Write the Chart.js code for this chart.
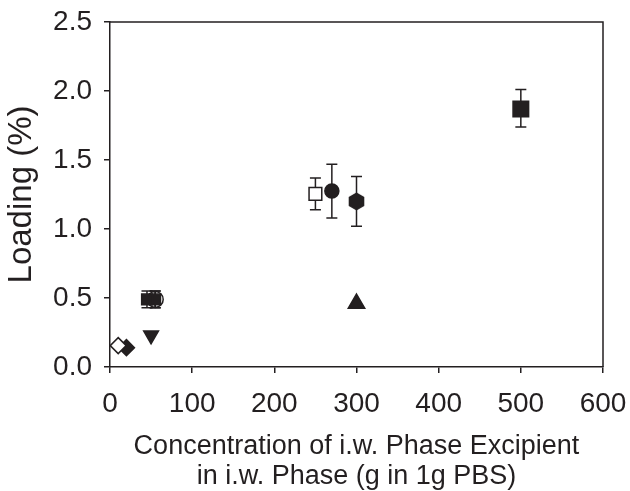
<!DOCTYPE html>
<html>
<head>
<meta charset="utf-8">
<script src="https://cdn.jsdelivr.net/npm/chart.js@4.4.1/dist/chart.umd.min.js"></script>
<style>
  html, body { margin: 0; padding: 0; background: #fff; }
  #wrap { width: 630px; height: 491px; }
</style>
</head>
<body>
<div id="wrap"><canvas id="loadingChart" width="630" height="491"></canvas></div>
<script>
// data
const xValues = [10, 20, 50, 45, 55, 55, 250, 270, 300, 300, 500];
const yValues = [0.155, 0.14, 0.23, 0.49, 0.49, 0.49, 1.255, 1.275, 1.2, 0.46, 1.87];
const errLow  = [null, null, null, 0.43, 0.43, 0.43, 1.14, 1.08, 1.02, null, 1.74];
const errHigh = [null, null, null, 0.55, 0.55, 0.55, 1.37, 1.47, 1.38, null, 2.01];
const xTicks = [0, 100, 200, 300, 400, 500, 600];
const yTicks = [0.0, 0.5, 1.0, 1.5, 2.0, 2.5];

const ink = "#231f20";
const fontFamily = "'Liberation Sans', Arial, Helvetica, sans-serif";

// hexagon marker (no built-in one in Chart.js)
function makeHexagon(size) {
  const c = document.createElement("canvas");
  c.width = size; c.height = size;
  const g = c.getContext("2d");
  const r = size / 2;
  g.beginPath();
  for (let i = 0; i < 6; i++) {
    const a = i * Math.PI / 3 - Math.PI / 2;
    const px = r + Math.cos(a) * (r - 0.5);
    const py = r + Math.sin(a) * (r - 0.5);
    if (i === 0) g.moveTo(px, py); else g.lineTo(px, py);
  }
  g.closePath();
  g.fillStyle = ink;
  g.fill();
  return c;
}
const hexagon = makeHexagon(19);

// marker look for each point, same order as the data arrays
const markers = [
  { style: "rectRot", r: 8, fill: "#fff" },
  { style: "rectRot", r: 8, fill: ink },
  { style: "triangle", r: 8.5, fill: ink, rot: 180 },
  { style: "rect", r: 7.5, fill: ink },
  { style: "rect", r: 7.5, fill: ink },
  { style: "circle", r: 8, fill: "rgba(0,0,0,0)" },
  { style: "rect", r: 9, fill: "#fff" },
  { style: "circle", r: 7, fill: ink },
  { style: hexagon, r: 9, fill: ink },
  { style: "triangle", r: 9.5, fill: ink },
  { style: "rect", r: 11, fill: ink }
];

const datasets = xValues.map((x, i) => ({
  label: "s" + i,
  data: [{ x: x, y: yValues[i] }],
  pointStyle: markers[i].style,
  pointRadius: markers[i].r,
  pointRotation: markers[i].rot || 0,
  pointBackgroundColor: markers[i].fill,
  pointBorderColor: ink,
  pointBorderWidth: 1.5,
  showLine: false
}));

// vertical error bars with caps
const errorBars = {
  id: "errorBars",
  beforeDatasetsDraw(chart) {
    const ctx = chart.ctx;
    const xs = chart.scales.x, ys = chart.scales.y;
    ctx.save();
    ctx.strokeStyle = ink;
    ctx.lineWidth = 1.5;
    xValues.forEach((x, i) => {
      if (errLow[i] === null) return;
      const px = xs.getPixelForValue(x);
      const y1 = ys.getPixelForValue(errLow[i]);
      const y2 = ys.getPixelForValue(errHigh[i]);
      ctx.beginPath();
      ctx.moveTo(px, y1); ctx.lineTo(px, y2);
      ctx.moveTo(px - 5.5, y1); ctx.lineTo(px + 5.5, y1);
      ctx.moveTo(px - 5.5, y2); ctx.lineTo(px + 5.5, y2);
      ctx.stroke();
    });
    ctx.restore();
  }
};

// top and right edges of the frame
const frame = {
  id: "frame",
  afterDraw(chart) {
    const a = chart.chartArea, ctx = chart.ctx;
    ctx.save();
    ctx.strokeStyle = ink;
    ctx.lineWidth = 1.5;
    ctx.beginPath();
    ctx.moveTo(a.left, a.top); ctx.lineTo(a.right, a.top); ctx.lineTo(a.right, a.bottom);
    ctx.stroke();
    ctx.restore();
  }
};

new Chart(document.getElementById("loadingChart"), {
  type: "scatter",
  data: { datasets: datasets },
  plugins: [errorBars, frame],
  options: {
    responsive: false,
    animation: false,
    layout: { padding: { top: 22, right: 27, left: 0, bottom: 0 } },
    plugins: { legend: { display: false }, tooltip: { enabled: false } },
    scales: {
      x: {
        type: "linear", min: 0, max: 600,
        afterFit(s) { s.height = 124; s.paddingLeft = 0; s.paddingRight = 0; },
        afterBuildTicks(s) { s.ticks = xTicks.map(v => ({ value: v })); },
        grid: { drawOnChartArea: false, drawTicks: true, tickLength: 6, color: ink, lineWidth: 1.5 },
        border: { display: true, color: ink, width: 1.5 },
        ticks: { color: ink, padding: 14, font: { family: fontFamily, size: 28 } },
        title: {
          display: true,
          text: ["Concentration of i.w. Phase Excipient", "in i.w. Phase (g in 1g PBS)"],
          color: ink,
          font: { family: fontFamily, size: 27, lineHeight: 1.1 },
          padding: { top: 0, bottom: 0 }
        }
      },
      y: {
        type: "linear", min: 0, max: 2.5,
        afterFit(s) { s.width = 110; s.paddingTop = 0; s.paddingBottom = 0; },
        afterBuildTicks(s) { s.ticks = yTicks.map(v => ({ value: v })); },
        grid: { drawOnChartArea: false, drawTicks: true, tickLength: 6, color: ink, lineWidth: 1.5 },
        border: { display: true, color: ink, width: 1.5 },
        ticks: { color: ink, padding: 12, font: { family: fontFamily, size: 28 }, callback: v => v.toFixed(1) },
        title: {
          display: true,
          text: "Loading (%)",
          color: ink,
          font: { family: fontFamily, size: 33 },
          padding: { top: 2, bottom: 0 }
        }
      }
    }
  }
});
</script>
</body>
</html>
